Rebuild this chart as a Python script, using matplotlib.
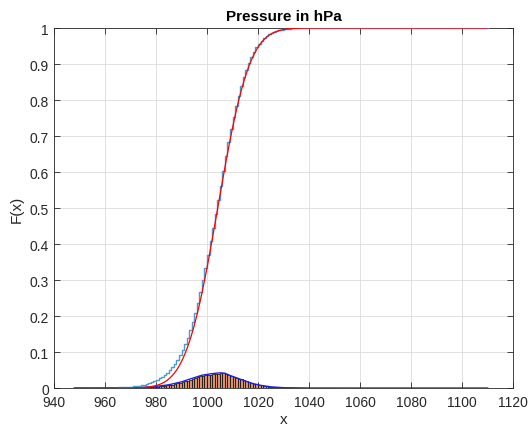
"""
Pressure in hPa: histogram, empirical CDF and fitted normal CDF
"""
import math
import numpy as np
import matplotlib.pyplot as plt

plt.rcParams['font.family'] = ['Liberation Sans', 'DejaVu Sans']

# histogram density, 1 hPa bins, left edges from 948
bin_start = 948
hist_density = [
    # 948-959
    0.0001, 0.0, 0.0001, 0.0, 0.0001, 0.0001, 0.0, 0.0001, 0.0, 0.0001, 0.0001, 0.0001,
    # 960-969
    0.0001, 0.0001, 0.0002, 0.0002, 0.0002, 0.0003, 0.0003, 0.0004, 0.0005, 0.0006,
    # 970-979
    0.0007, 0.0009, 0.0011, 0.0013, 0.0015, 0.0022, 0.0025, 0.0028, 0.0031, 0.0036,
    # 980-989
    0.0041, 0.0047, 0.0054, 0.0063, 0.0073, 0.0085, 0.0098, 0.0114, 0.0131, 0.0150,
    # 990-999
    0.0164, 0.0188, 0.0212, 0.0237, 0.0262, 0.0287, 0.0311, 0.0333, 0.0354, 0.0371,
    # 1000-1009
    0.0386, 0.0385, 0.0390, 0.0407, 0.0406, 0.0430, 0.0425, 0.0405, 0.0365, 0.0342,
    # 1010-1019
    0.0320, 0.0296, 0.0272, 0.0247, 0.0222, 0.0197, 0.0170, 0.0147, 0.0126, 0.0106,
    # 1020-1029
    0.0089, 0.0073, 0.0060, 0.0049, 0.0040, 0.0032, 0.0025, 0.0019, 0.0015, 0.0012,
    # 1030-1039
    0.0009, 0.0007, 0.0005, 0.0004, 0.0003, 0.0002, 0.0001, 0.0001, 0.0, 0.0,
]
# a single high reading near 1110
outlier_x = 1109
outlier_density = 0.0001

# smoothed density curve (blue)
pdf_x = [948, 960, 970, 975, 980, 985, 990, 994, 998, 1002, 1005, 1007,
         1009, 1012, 1015, 1018, 1021, 1025, 1030, 1040, 1060, 1110]
pdf_y = [0.0001, 0.0002, 0.0008, 0.0020, 0.0044, 0.0090, 0.0172, 0.0265, 0.0355, 0.0400,
         0.0422, 0.0412, 0.0350, 0.0272, 0.0195, 0.0125, 0.0076, 0.0033, 0.0009, 0.0001, 0.0, 0.0]

# fitted normal
mu = 1004.2
sigma = 9.8

# build full bin list up to 1110
n_bins = 1110 - bin_start
dens = np.zeros(n_bins)
dens[:len(hist_density)] = hist_density
dens[outlier_x - bin_start] = outlier_density
dens = dens / dens.sum()
edges = np.arange(bin_start, bin_start + n_bins + 1)
ecdf = np.concatenate([[0.0], np.cumsum(dens)])

xs = np.linspace(948, 1110, 800)
norm_cdf = np.array([0.5 * (1 + math.erf((v - mu) / (sigma * math.sqrt(2)))) for v in xs])

fig = plt.figure(figsize=(5.29, 4.31), dpi=100)
ax = fig.add_axes([0.102, 0.0974, 0.868, 0.8353])

ax.bar(edges[:-1], dens, width=1.0, align='edge', color='#d9936a',
       edgecolor='black', linewidth=0.5, zorder=2)
ax.plot(pdf_x, pdf_y, color='#2020e0', linewidth=1.0, zorder=3)
ax.step(edges, ecdf, where='post', color='#4a9ccf', linewidth=1.0, zorder=4)
ax.plot(xs, norm_cdf, color='red', linewidth=0.9, zorder=5)

ax.set_xlim(940, 1120)
ax.set_ylim(0, 1)
ax.set_xticks(np.arange(940, 1121, 20))
ax.set_yticks(np.arange(0, 1.01, 0.1))
ax.set_yticklabels(['0', '0.1', '0.2', '0.3', '0.4', '0.5', '0.6', '0.7', '0.8', '0.9', '1'])
ax.tick_params(direction='in', top=True, right=True, labelsize=10, colors='#262626',
               length=4, width=0.6)
ax.tick_params(axis='x', pad=5)
ax.grid(True, color='#dcdcdc', linewidth=0.6)
ax.set_axisbelow(True)
for s in ax.spines.values():
    s.set_color('#262626')
    s.set_linewidth(0.6)

ax.set_xlabel('x', fontsize=11, color='#262626', labelpad=2)
ax.set_ylabel('F(x)', fontsize=11, color='#262626')
ax.set_title('Pressure in hPa', fontsize=11, fontweight='bold', pad=6)

plt.savefig('out.png', dpi=100)
plt.close()
